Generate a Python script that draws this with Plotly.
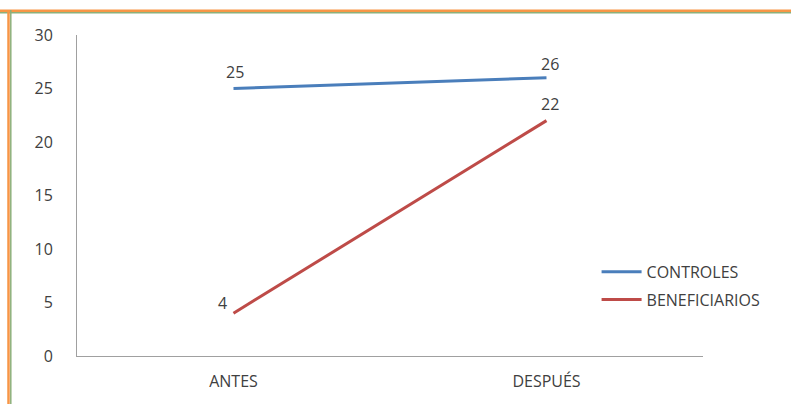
import plotly.graph_objects as go

# Periods compared and the value for each group
periods = ["ANTES", "DESPUÉS"]
controles = [25, 26]
beneficiarios = [4, 22]

# Tick values on the vertical axis
y_ticks = [0, 5, 10, 15, 20, 25, 30]

BLUE = "#4A7EBB"
RED = "#BE4B48"
TEXT = "#404040"
FONT = "Open Sans"
FS = 16

W, H = 791, 404
ML, MR, MT, MB = 77, 88, 35, 48

fig = go.Figure()
fig.add_trace(go.Scatter(x=periods, y=controles, mode="lines", name="CONTROLES",
                         legendgroup="c", line=dict(color=BLUE, width=3)))
fig.add_trace(go.Scatter(x=periods, y=beneficiarios, mode="lines", name="BENEFICIARIOS",
                         legendgroup="b", line=dict(color=RED, width=3)))

# Value labels next to each end point
label_style = {
    "CONTROLES": [dict(xshift=1, yshift=17), dict(xshift=3, yshift=14)],
    "BENEFICIARIOS": [dict(xshift=-11, yshift=10), dict(xshift=3, yshift=17)],
}
for name, vals in (("CONTROLES", controles), ("BENEFICIARIOS", beneficiarios)):
    for cat, v, sty in zip(periods, vals, label_style[name]):
        fig.add_annotation(x=cat, y=v, text=str(v), showarrow=False,
                           font=dict(family=FONT, size=FS, color=TEXT), **sty)

# Frame lines along the top and left edges of the picture
pw, ph = W - ML - MR, H - MT - MB
def px(x):
    return (x - ML) / pw
def py(y):
    return (H - MB - y) / ph

for (x0, y0, x1, y1, c, w) in [
    (0, 12.8, W + 5, 12.8, "#8DB07A", 1.5),
    (0, 10.8, W + 5, 10.8, "#F79646", 2.5),
    (10.8, 10, 10.8, H + 5, "#8DB07A", 1.5),
    (8.5, 10, 8.5, H + 5, "#F79646", 2.5),
]:
    fig.add_shape(type="line", xref="paper", yref="paper",
                  x0=px(x0), y0=py(y0), x1=px(x1), y1=py(y1),
                  line=dict(color=c, width=w), layer="above")

fig.update_layout(
    width=W, height=H,
    margin=dict(l=ML, r=MR, t=MT, b=MB, pad=0),
    paper_bgcolor="white", plot_bgcolor="white",
    font=dict(family=FONT, size=FS, color=TEXT),
    showlegend=True,
    legend=dict(x=0.83, y=0.315, xanchor="left", yanchor="top",
                bgcolor="rgba(0,0,0,0)", font=dict(family=FONT, size=FS, color=TEXT),
                itemwidth=40, tracegroupgap=4),
)
fig.update_xaxes(range=[-0.5, 1.5], showline=True, linecolor="#A0A0A0", linewidth=1,
                 showgrid=False, zeroline=False, ticks="", ticklen=0,
                 ticklabelstandoff=11,
                 tickfont=dict(family=FONT, size=FS, color=TEXT))
fig.update_yaxes(range=[0, 30], tickvals=y_ticks, showline=True, linecolor="#A0A0A0",
                 linewidth=1, showgrid=False, zeroline=False, ticks="",
                 ticklabelstandoff=20, tickfont=dict(family=FONT, size=FS, color=TEXT))

fig.write_html("out.html")
